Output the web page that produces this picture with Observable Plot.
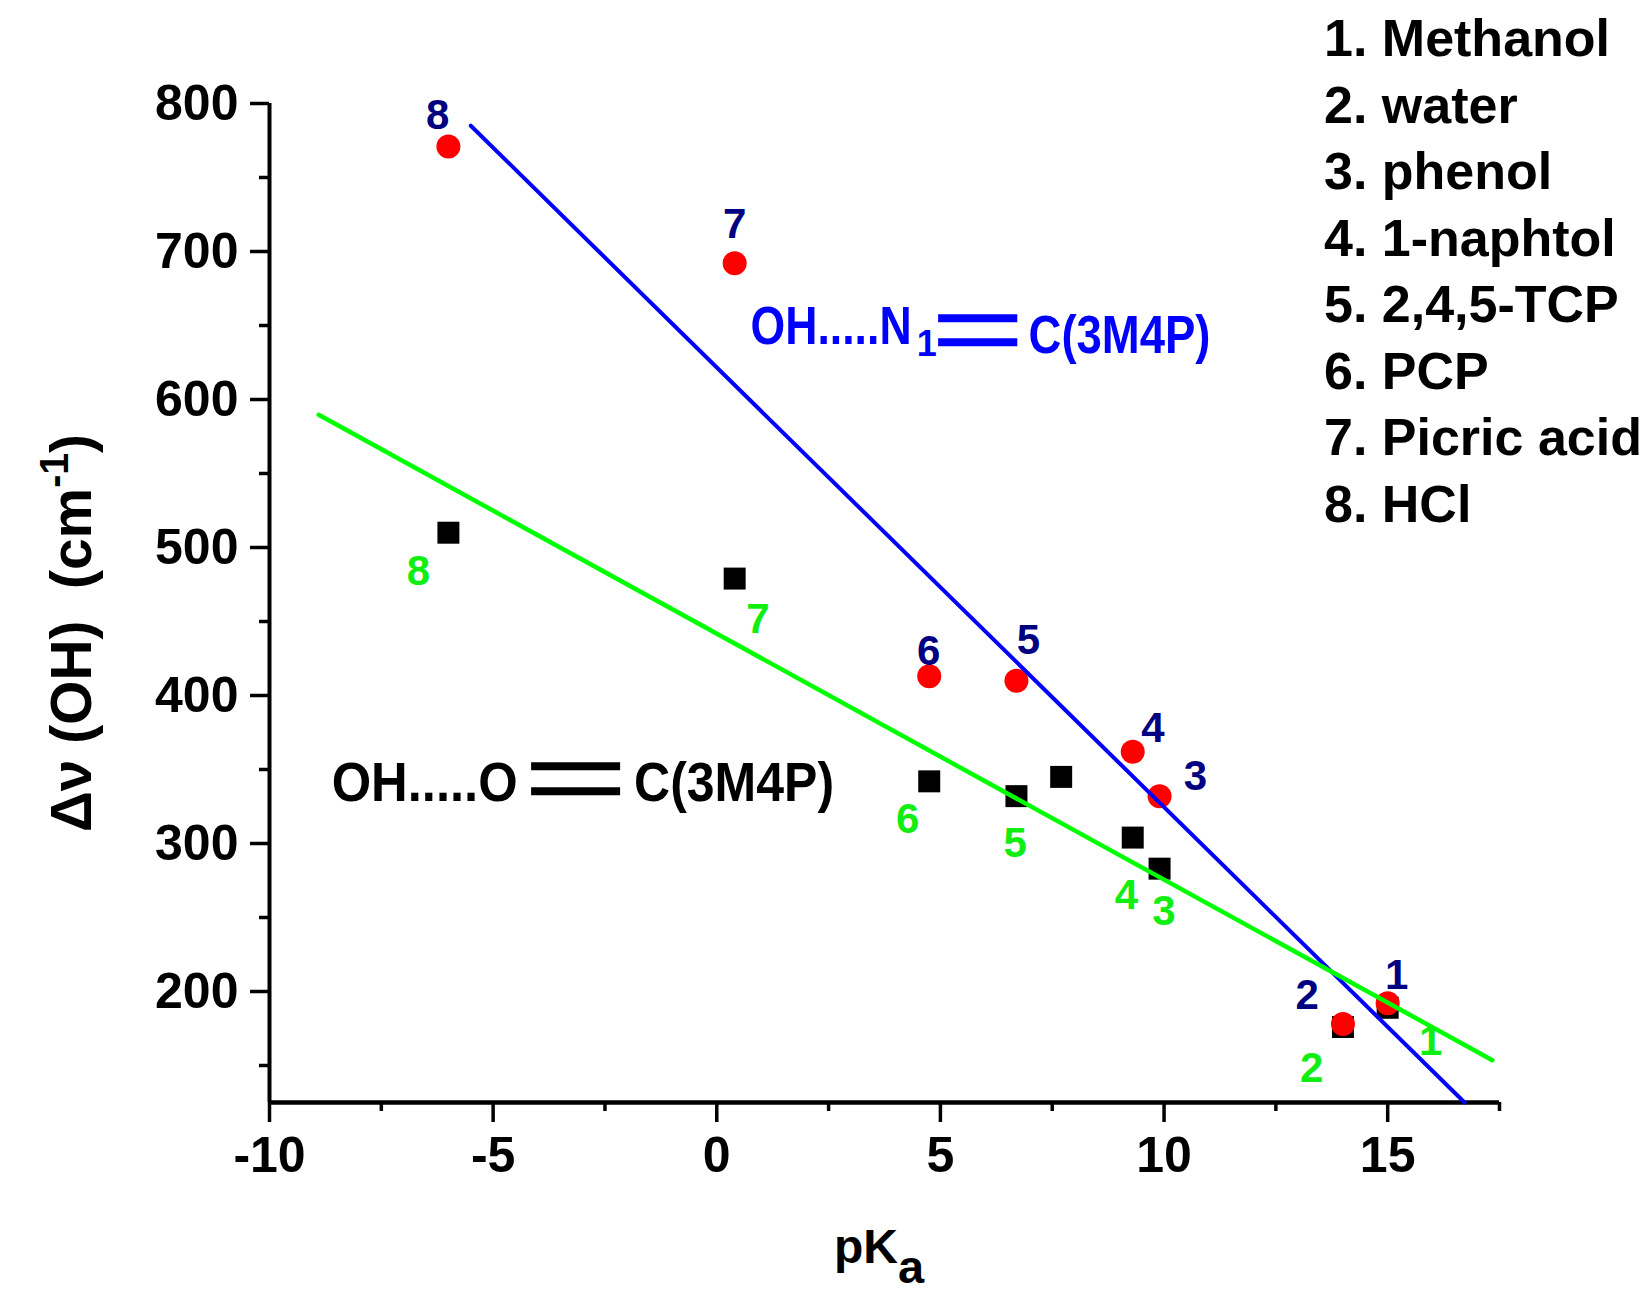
<!DOCTYPE html>
<html><head><meta charset="utf-8">
<script src="https://cdn.jsdelivr.net/npm/d3@7"></script>
<script src="https://cdn.jsdelivr.net/npm/@observablehq/plot@0.6"></script>
<style>body{margin:0;background:#fff} svg{display:block}</style>
</head><body><div id="chart"></div>
<script>
// ---- data ----
const compoundIds = ["1","2","3","4","5","6","7","8"];
const compoundNames = ["1. Methanol","2. water","3. phenol","4. 1-naphtol","5. 2,4,5-TCP","6. PCP","7. Picric acid","8. HCl"];
const pKa  = [15.0, 14.0, 9.9, 9.3, 6.7, 4.75, 0.4, -6.0];
const dNuN = [192, 178, 332, 362, 410, 413, 692, 771];   // OH...N (red circles)
const dNuO = [189, 176, 283, 304, 332, 342, 479, 510];   // OH...O (black squares)
const extraO_x = [7.7];
const extraO_y = [345];

// number-label positions (data units)
const labelN_x = [15.2, 13.2, 10.7, 9.75, 6.97, 4.74, 0.4, -6.24];
const labelN_y = [211, 197, 345, 378, 437, 430, 718, 792];
const labelO_x = [15.96, 13.3, 10.0, 9.16, 6.67, 4.27, 0.92, -6.67];
const labelO_y = [166, 148, 254, 265, 300, 316, 451, 484];

// fitted lines
const lineN_x = [-5.5, 16.72];
const lineN_y = [785, 125];
const lineO_x = [-8.9, 17.34];
const lineO_y = [589.7, 153.6];

// annotations
const annN_text = ["OH.....N", "C(3M4P)"];
const annN_x = [0.756, 6.97];
const annN_y = [637.6, 631.6];
const annN_sub = ["1"];
const annN_sub_x = [4.47];
const annN_sub_y = [629.5];
const bondN_y = [654.9, 638.6];
const bondN_x = [4.96, 6.73];
const annO_text = ["OH.....O", "C(3M4P)"];
const annO_x = [-8.61, -1.85];
const annO_y = [328.9, 328.9];
const bondO_y = [352.2, 335.3];
const bondO_x = [-4.14, -2.15];

// axes
const xDomain = [-10, 17.5];
const yDomain = [125, 800];
const xMajor = [-10, -5, 0, 5, 10, 15];
const xMinor = [-7.5, -2.5, 2.5, 7.5, 12.5, 17.5];
const yMajor = [200, 300, 400, 500, 600, 700, 800];
const yMinor = [150, 250, 350, 450, 550, 650, 750];

const idx = d3.range(compoundIds.length);
const FONT = '"Liberation Sans", Arial, sans-serif';

const plot = Plot.plot({
  width: 1650, height: 1300,
  marginLeft: 269, marginRight: 151, marginTop: 103, marginBottom: 198,
  x: {domain: xDomain, label: null},
  y: {domain: yDomain, label: null},
  style: {fontFamily: FONT, fontWeight: "bold", fontSize: "50px", color: "#000", background: "#fff", overflow: "visible"},
  marks: [
    Plot.axisX(xMinor, {tickSize: 9, strokeWidth: 3.5, tickFormat: () => "", label: null}),
    Plot.axisX(xMajor, {tickSize: 20, tickPadding: 14, strokeWidth: 3.5, fontSize: 50, fontWeight: "bold", tickFormat: d => String(d), label: null}),
    Plot.axisY(yMinor, {tickSize: 10, strokeWidth: 3.5, tickFormat: () => "", label: null}),
    Plot.axisY(yMajor, {tickSize: 19, tickPadding: 12, strokeWidth: 3.5, fontSize: 50, fontWeight: "bold", tickFormat: d => String(d), label: null}),
    Plot.ruleX([xDomain[0]], {stroke: "#000", strokeWidth: 4}),
    Plot.ruleY([yDomain[0]], {stroke: "#000", strokeWidth: 4.5}),
    // black squares
    Plot.dot(idx, {x: i => pKa[i], y: i => dNuO[i], symbol: "square", r: 12.4, fill: "#000", stroke: null}),
    Plot.dot(d3.range(extraO_x.length), {x: i => extraO_x[i], y: i => extraO_y[i], symbol: "square", r: 12.4, fill: "#000", stroke: null}),
    // red circles
    Plot.dot(idx, {x: i => pKa[i], y: i => dNuN[i], r: 12, fill: "#ff0000", stroke: null}),
    // lines
    Plot.line(d3.range(lineN_x.length), {x: i => lineN_x[i], y: i => lineN_y[i], stroke: "#0000ff", strokeWidth: 4}),
    Plot.line(d3.range(lineO_x.length), {x: i => lineO_x[i], y: i => lineO_y[i], stroke: "#00ff00", strokeWidth: 4.5}),
    // number labels
    Plot.text(idx, {x: i => labelN_x[i], y: i => labelN_y[i], text: i => compoundIds[i], fill: "#000080", fontSize: 42, fontWeight: "bold"}),
    Plot.text(idx, {x: i => labelO_x[i], y: i => labelO_y[i], text: i => compoundIds[i], fill: "#11ee11", fontSize: 42, fontWeight: "bold"}),
    // annotations
    Plot.text(d3.range(annN_text.length), {x: i => annN_x[i], y: i => annN_y[i], text: i => annN_text[i], fill: "#0000ff", fontSize: 53, fontWeight: "bold", textAnchor: "start", lineAnchor: "bottom"}),
    Plot.text(d3.range(annN_sub.length), {x: i => annN_sub_x[i], y: i => annN_sub_y[i], text: i => annN_sub[i], fill: "#0000ff", fontSize: 36, fontWeight: "bold", textAnchor: "start", lineAnchor: "bottom"}),
    Plot.ruleY(bondN_y, {x1: bondN_x[0], x2: bondN_x[1], stroke: "#0000ff", strokeWidth: 8}),
    Plot.text(d3.range(annO_text.length), {x: i => annO_x[i], y: i => annO_y[i], text: i => annO_text[i], fill: "#000", fontSize: 56, fontWeight: "bold", textAnchor: "start", lineAnchor: "bottom"}),
    Plot.ruleY(bondO_y, {x1: bondO_x[0], x2: bondO_x[1], stroke: "#000", strokeWidth: 8})
  ]
});

// condensed widths for the annotation texts (as in the original)
plot.querySelectorAll("text").forEach(t => {
  const s = t.textContent;
  const fill = t.closest("g") ? t.closest("g").getAttribute("fill") : null;
  let w = null;
  if (s === "OH.....N") w = 161;
  else if (s === "OH.....O") w = 186;
  else if (s === "C(3M4P)") w = (fill === "#000" || fill === "black") ? 200 : 182;
  if (w) { t.setAttribute("textLength", w); t.setAttribute("lengthAdjust", "spacingAndGlyphs"); }
});

const svg = d3.select(plot);
// y axis title
const yt = svg.append("text")
  .attr("transform", "translate(91,633) rotate(-90)")
  .attr("text-anchor", "middle")
  .attr("font-family", FONT).attr("font-weight", "bold").attr("font-size", 58)
  .attr("fill", "#000").style("white-space", "pre")
  .attr("textLength", 398).attr("lengthAdjust", "spacingAndGlyphs");
yt.append("tspan").text("\u0394\u03bd (OH)  (cm");
yt.append("tspan").attr("font-size", 40).attr("dy", -23).text("-1");
yt.append("tspan").attr("dy", 23).text(")");

// x axis title
const xt = svg.append("text")
  .attr("x", 834).attr("y", 1263).attr("text-anchor", "start")
  .attr("font-family", FONT).attr("font-weight", "bold").attr("font-size", 48).attr("fill", "#000");
xt.append("tspan").text("pK");
xt.append("tspan").attr("font-size", 47).attr("dy", 20).text("a");

// legend
svg.append("g")
  .attr("font-family", FONT).attr("font-weight", "bold").attr("font-size", 52).attr("fill", "#000")
  .attr("text-anchor", "start")
  .selectAll("text").data(compoundNames).join("text")
  .attr("x", 1324).attr("y", (d, i) => 56 + i * 66.5)
  .text(d => d);

document.getElementById("chart").appendChild(plot);
</script>
</body></html>
